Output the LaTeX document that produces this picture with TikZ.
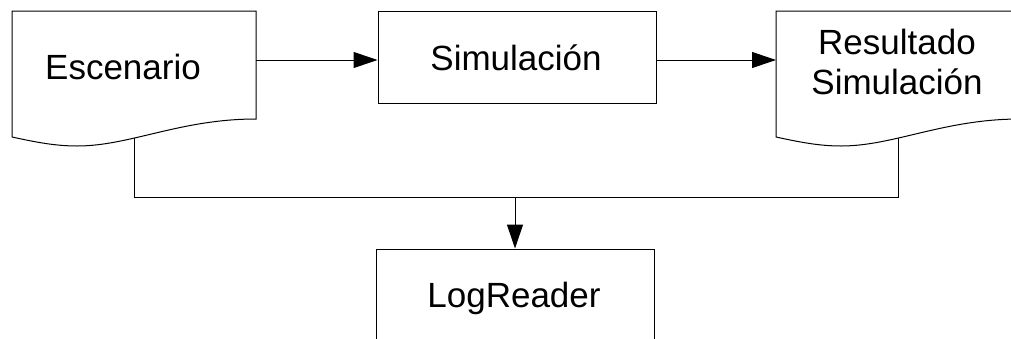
\documentclass[tikz,border=0pt]{standalone}
\usepackage{fontspec}
\setmainfont{Liberation Sans}
\usetikzlibrary{arrows.meta,calc}
\begin{document}
\begin{tikzpicture}[x=1pt,y=-1pt,line width=1pt,
  lbl/.style={font=\fontsize{35}{40}\selectfont,align=center,inner sep=0pt},
  boxnode/.style={draw,minimum width=278pt,minimum height=91.5pt,inner sep=0pt},
  arr/.style={-{Triangle[length=24pt,width=16pt]}},
  docshape/.pic={\draw (-122,-63) -- (122,-63) -- (122,45)
     .. controls (46,45) and (-4,72) .. (-57,72)
     .. controls (-79,72) and (-99,68) .. (-122,63) -- cycle;}]
\useasboundingbox (0,0) rectangle (1011,338);
\clip (0,0) rectangle (1011,338);
% Escenario (document shape)
\pic at (134,74) {docshape};
\node[lbl,anchor=base] (esc) at (123,79) {Escenario};
\coordinate (escE) at (256,60);
\coordinate (escS) at (134,138.4);
% Simulacion
\node[boxnode] (sim) at (517,57.5) {};
\node[lbl,anchor=base] (simt) at (516,70) {Simulación};
% Resultado Simulacion (document shape)
\pic at (898,74) {docshape};
\node[lbl] (res) at (897,62) {Resultado\\Simulación};
\coordinate (resW) at (776,60);
\coordinate (resS) at (898,138.4);
% LogReader
\node[boxnode,minimum height=95pt] (log) at (515,296.5) {};
\node[lbl,anchor=base] (logt) at (514,307) {LogReader};
% connectors
\coordinate (junc) at (515,197);
\draw[arr] (escE) -- (escE -| sim.west);
\draw[arr] ([yshift=-2.5pt]sim.east) -- (resW);
\draw (escS) -- (escS |- junc) -- (junc -| resS) -- (resS);
\draw[arr] (junc) -- (log.north);
\end{tikzpicture}
\end{document}
